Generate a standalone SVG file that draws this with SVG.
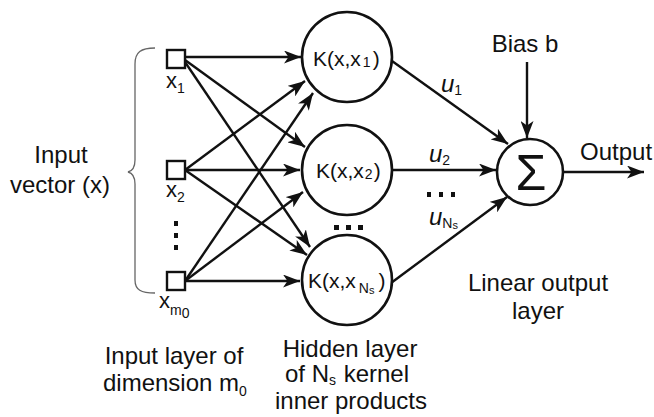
<svg xmlns="http://www.w3.org/2000/svg" width="654" height="417" viewBox="0 0 654 417">
  <style>
    text { font-family: "Liberation Sans", Arial, sans-serif; fill: #111; }
    .lbl { font-size: 24px; }
    .k { font-size: 21px; }
    .sub { font-size: 14px; }
    .u { font-size: 24px; font-style: italic; }
    .node { fill: #fff; stroke: #111; stroke-width: 2.6; }
    .in { fill: #fff; stroke: #111; stroke-width: 2.4; }
    .edge { stroke: #111; stroke-width: 2.4; fill: none; marker-end: url(#head); }
    .dot { fill: #111; }
  </style>
  <defs>
    <marker id="head" markerUnits="userSpaceOnUse" markerWidth="19" markerHeight="13" refX="17" refY="6.5" orient="auto">
      <path d="M0,0 L17,6.5 L0,13 L4.5,6.5 Z" fill="#111"/>
    </marker>
  </defs>

  <rect width="654" height="417" fill="#fff"/>

  <!-- brace grouping the input vector -->
  <path d="M155,48 C141,48 135,52 135,64 L135,160 C135,167 132,171 128,172 C132,173 135,177 135,184 L135,280 C135,290 141,293 155,293" fill="none" stroke="#666" stroke-width="1.3"/>
  <text class="lbl" x="61" y="163" text-anchor="middle">Input</text>
  <text class="lbl" x="60" y="193" text-anchor="middle">vector (x)</text>

  <!-- connectors -->
  <g id="connectors">
    <line class="edge" x1="185" y1="57" x2="301" y2="57"/>
    <line class="edge" x1="185" y1="60" x2="305" y2="147"/>
    <line class="edge" x1="185" y1="62" x2="310" y2="247"/>
    <line class="edge" x1="185" y1="170" x2="305" y2="81"/>
    <line class="edge" x1="185" y1="170" x2="300" y2="170"/>
    <line class="edge" x1="185" y1="170" x2="307" y2="255"/>
    <line class="edge" x1="185" y1="281" x2="313" y2="93"/>
    <line class="edge" x1="185" y1="281" x2="303" y2="192"/>
    <line class="edge" x1="185" y1="281" x2="300" y2="281"/>
    <line class="edge" x1="392" y1="61" x2="508" y2="144"/>
    <line class="edge" x1="392" y1="170" x2="496" y2="170"/>
    <line class="edge" x1="391" y1="283" x2="507" y2="197"/>
    <line class="edge" x1="527" y1="62" x2="527" y2="138"/>
    <line class="edge" x1="563" y1="172" x2="644" y2="172"/>
  </g>

  <!-- input nodes -->
  <g id="input-x1">
    <rect class="in" x="167" y="50" width="18" height="18"/>
    <text x="166" y="88" font-size="22">x<tspan class="sub" dy="5">1</tspan></text>
  </g>
  <g id="input-x2">
    <rect class="in" x="167" y="161" width="18" height="18"/>
    <text x="166" y="197" font-size="22">x<tspan class="sub" dy="5">2</tspan></text>
  </g>
  <g id="input-dots">
    <rect class="dot" x="174" y="221" width="4" height="5"/>
    <rect class="dot" x="174" y="233" width="4" height="5"/>
    <rect class="dot" x="174" y="245" width="4" height="5"/>
  </g>
  <g id="input-xm0">
    <rect class="in" x="167" y="272" width="18" height="18"/>
    <text x="159" y="308" font-size="22">x<tspan class="sub" font-size="15" dy="7">m</tspan><tspan class="sub" font-size="15" dy="3">0</tspan></text>
  </g>

  <!-- hidden kernel nodes -->
  <g id="kernel-1">
    <circle class="node" cx="347" cy="57" r="45"/>
    <text class="k" x="313" y="66">K(x,x<tspan class="sub" dx="2" dy="1">1</tspan><tspan dx="2" dy="-1">)</tspan></text>
  </g>
  <g id="kernel-2">
    <circle class="node" cx="347" cy="170" r="45"/>
    <text class="k" x="316" y="178">K(x,x<tspan class="sub" dx="1" dy="1">2</tspan><tspan dx="1" dy="-1">)</tspan></text>
  </g>
  <g id="kernel-dots">
    <rect class="dot" x="334" y="225" width="5" height="5"/>
    <rect class="dot" x="346" y="225" width="5" height="5"/>
    <rect class="dot" x="358" y="225" width="5" height="5"/>
  </g>
  <g id="kernel-ns">
    <circle class="node" cx="347" cy="280" r="45"/>
    <text class="k" x="308" y="288">K(x,x<tspan class="sub" dx="3" dy="5">N</tspan><tspan font-size="11" dy="1">s</tspan><tspan dx="4" dy="-6">)</tspan></text>
  </g>

  <!-- weights -->
  <g id="weights">
    <text class="u" x="441" y="92">u<tspan class="sub" font-style="normal" dy="3">1</tspan></text>
    <text class="u" x="429" y="162">u<tspan class="sub" font-style="normal" dy="3">2</tspan></text>
    <rect class="dot" x="427" y="192" width="4" height="5"/>
    <rect class="dot" x="439" y="192" width="4" height="5"/>
    <rect class="dot" x="451" y="192" width="4" height="5"/>
    <text class="u" x="429" y="225">u<tspan class="sub" font-style="normal" dy="3">N</tspan><tspan font-size="11" font-style="normal" dy="1">s</tspan></text>
  </g>

  <!-- summing output node -->
  <g id="sum">
    <circle class="node" cx="530" cy="172" r="33"/>
    <text x="531" y="190" font-size="50" text-anchor="middle">Σ</text>
  </g>
  <g id="bias">
    <text class="lbl" x="525" y="52" text-anchor="middle">Bias b</text>
  </g>
  <g id="output">
    <text class="lbl" x="580" y="160">Output</text>
  </g>

  <!-- layer captions -->
  <text class="lbl" x="174" y="364" text-anchor="middle">Input layer of</text>
  <text class="lbl" x="103" y="391">dimension m<tspan class="sub" font-size="15" dy="5">0</tspan></text>
  <text class="lbl" x="350" y="357" text-anchor="middle">Hidden layer</text>
  <text class="lbl" x="347" y="382" text-anchor="middle">of N<tspan class="sub" font-size="14" dy="3">s</tspan><tspan dx="1" dy="-3"> kernel</tspan></text>
  <text class="lbl" x="351" y="409" text-anchor="middle">inner products</text>
  <text class="lbl" x="538" y="291" text-anchor="middle">Linear output</text>
  <text class="lbl" x="538" y="319" text-anchor="middle">layer</text>
</svg>
